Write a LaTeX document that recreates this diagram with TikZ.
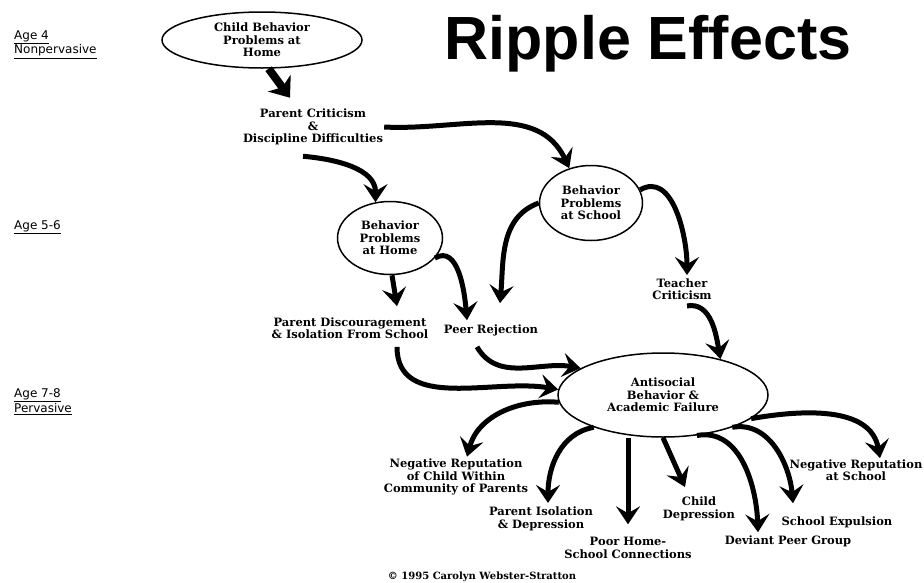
\documentclass[tikz,border=0pt]{standalone}
\usepackage{fontspec}
\setmainfont{DejaVu Serif}
\newfontfamily\agefont{DejaVu Sans}
\newfontfamily\titlefont{Liberation Sans}
\usetikzlibrary{arrows.meta,shapes.geometric}
\newcommand{\lblfont}{\bfseries\fontsize{11.5}{12.5}\selectfont}
\tikzset{
  bubble/.style={ellipse, draw, line width=1.5pt, inner sep=0pt, align=center, font=\lblfont},
  lbl/.style={align=center, inner sep=1pt, font=\lblfont},
  agelbl/.style={anchor=west, align=left, inner sep=0pt, font=\agefont\fontsize{12}{13}\selectfont},
  ripple/.style={line width=5pt, -{Stealth[length=18pt,width=24pt,inset=7pt]}}
}

\begin{document}
\begin{tikzpicture}[x=1pt, y=-1pt]
\useasboundingbox (0,0) rectangle (924,582);

% --- Age column ---
\node[agelbl] (age4) at (14,44.5) {\underline{Age 4}\\ \underline{Nonpervasive}};
\node[agelbl] (age56) at (14,227) {\underline{Age 5-6}};
\node[agelbl] (age78) at (14,401.5) {\underline{Age 7-8}\\ \underline{Pervasive}};

% Title
\node[font=\titlefont\bfseries\fontsize{61}{62}\selectfont, inner sep=0pt]
      (title) at (648,44) {Ripple Effects};

% --- Age 4 ---
\node[bubble, minimum width=200pt, minimum height=56pt]
      (home0) at (262,40) {Child Behavior\\ Problems at\\ Home};
\node[lbl] (pcrit) at (313,127) {Parent Criticism\\ \&\\ Discipline Difficulties};

% --- Age 5-6 ---
\node[bubble, minimum width=105pt, minimum height=73pt]
      (bph) at (390,238) {Behavior\\ Problems\\ at Home};
\node[bubble, minimum width=103pt, minimum height=75pt]
      (bps) at (591,203) {Behavior\\ Problems\\ at School};
\node[lbl] (pdisc) at (350,328) {Parent Discouragement\\ \& Isolation From School};
\node[lbl] (peer) at (491,330) {Peer Rejection};
\node[lbl] (teach) at (682,289) {Teacher\\ Criticism};

% --- Age 7-8 ---
\node[bubble, minimum width=210pt, minimum height=84pt]
      (anti) at (663,395) {Antisocial\\ Behavior \&\\ Academic Failure};
\node[lbl] (negchild) at (456,477) {Negative Reputation\\ of Child Within\\ Community of Parents};
\node[lbl] (pisol) at (541,519) {Parent Isolation\\ \& Depression};
\node[lbl] (poorhome) at (628,548) {Poor Home-\\ School Connections};
\node[lbl] (childdep) at (699,509) {Child\\ Depression};
\node[lbl] (deviant) at (788,541) {Deviant Peer Group};
\node[lbl] (expel) at (837,522) {School Expulsion};
\node[lbl] (negschool) at (856,470) {Negative Reputation\\ at School};

\node[font=\bfseries\fontsize{10}{11}\selectfont, inner sep=0pt]
      (copy) at (482,577) {© 1995 Carolyn Webster-Stratton};

% Arrows
\draw[line width=8pt, -{Stealth[length=18pt,width=28pt,inset=5pt]}]
      (home0.283) -- ([xshift=-23pt,yshift=10pt]pcrit.north);
\draw[ripple] (pcrit.east) to[out=-3, in=115] (bps.122);
\draw[ripple] ([xshift=-10pt,yshift=-10pt]pcrit.south) to[out=-5, in=90] (bph.112);

\draw[ripple] ([xshift=2pt]bph.south) -- ([xshift=47pt,yshift=10pt]pdisc.north);
\draw[ripple] (bph.336) to[out=30, in=95] ([xshift=-24pt,yshift=3pt]peer.north);
\draw[ripple] (bps.180) to[out=200, in=85] ([xshift=9pt,yshift=20pt]peer.north);
\draw[ripple] (bps.15) to[out=30, in=90] ([xshift=5pt,yshift=2pt]teach.north);

\draw[ripple] ([xshift=5pt,yshift=-5pt]teach.south) to[out=10, in=100] (anti.32);
\draw[ripple] ([xshift=-14pt,yshift=-10pt]peer.south) to[out=-60, in=170] (anti.162);
\draw[ripple] ([xshift=47pt,yshift=-7pt]pdisc.south) to[out=-90, in=170] (anti.177);

\draw[ripple] (anti.184) to[out=175, in=75] ([xshift=11pt,yshift=1pt]negchild.north);
\draw[ripple] (anti.205) to[out=190, in=90] ([xshift=7pt,yshift=3pt]pisol.north);
\draw[ripple] (anti.south -| poorhome.north) -- ([yshift=12pt]poorhome.north);
\draw[ripple] (anti.south) -- ([xshift=-14pt,yshift=9pt]childdep.north);
\draw[ripple] (anti.310) to[out=10, in=92] ([xshift=-30pt,yshift=2pt]deviant.north);
\draw[ripple] (anti.335) to[out=10, in=95] ([xshift=-44pt,yshift=12pt]expel.north);
\draw[ripple] (anti.345) to[out=10, in=100] ([xshift=24pt]negschool.north);

\end{tikzpicture}
\end{document}
